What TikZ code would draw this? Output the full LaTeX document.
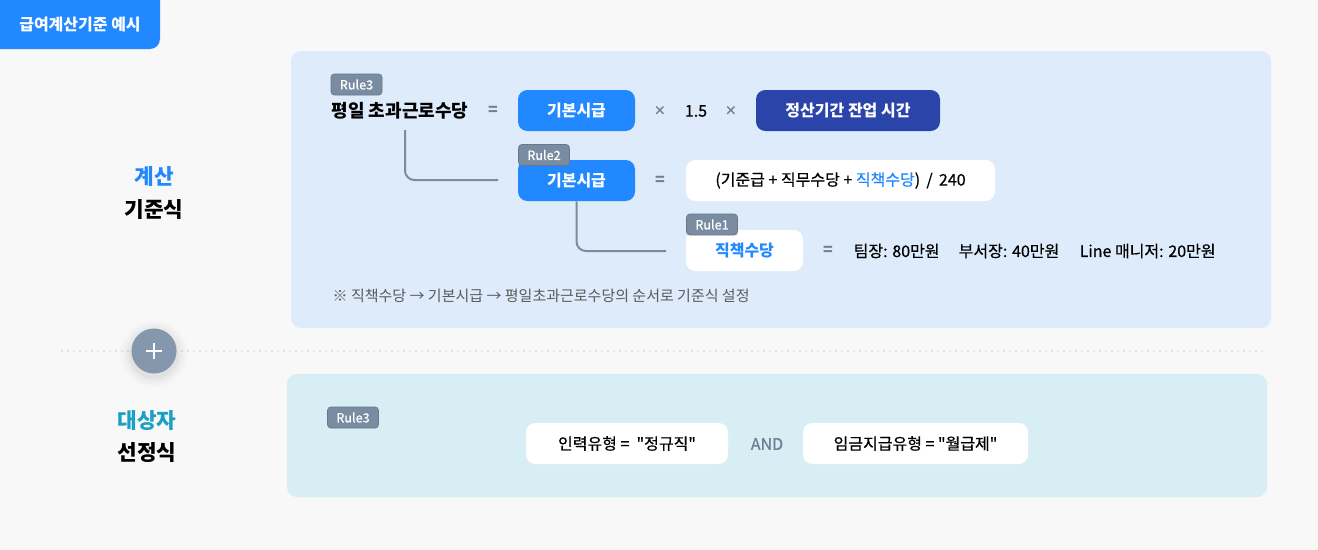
\documentclass[tikz,border=0pt]{standalone}
\usepackage{fontspec}
\setmainfont{Noto Sans CJK KR}[Ligatures=TeXOff]
\newfontfamily\medfont{Noto Sans CJK KR}[Ligatures=TeXOff,FakeBold=0.6]
\usetikzlibrary{positioning}

\definecolor{pagebg}{HTML}{F8F8F8}
\definecolor{mainblue}{HTML}{2288FF}
\definecolor{darkblue}{HTML}{2B44AA}
\definecolor{panelblue}{HTML}{DDEBFA}
\definecolor{panelteal}{HTML}{D8EEF5}
\definecolor{tagslate}{HTML}{7A8CA2}
\definecolor{opgray}{HTML}{6E7F94}
\definecolor{tealtxt}{HTML}{1AA0C4}
\definecolor{notegray}{HTML}{5A5A5A}
\definecolor{dotgray}{HTML}{D6DDE5}
\definecolor{plusgray}{HTML}{8497AD}

\newcommand{\fsz}[1]{\fontsize{#1}{#1}\selectfont}

\begin{document}
\begin{tikzpicture}[x=0.75pt,y=-0.75pt,
  tag/.style={fill=tagslate,draw=tagslate!85!black,line width=0.5pt,rounded corners=2.5pt,text=white,minimum width=38.25pt,minimum height=15.75pt,inner sep=0pt,font=\fsz{9.5}\medfont},
  bluebox/.style={fill=mainblue,rounded corners=7pt,minimum height=30.75pt,inner sep=0pt,text=white,font=\fsz{12}\bfseries},
  darkbox/.style={bluebox,fill=darkblue},
  whitebox/.style={fill=white,rounded corners=7pt,minimum height=30.75pt,inner sep=0pt,font=\fsz{12}\medfont},
  op/.style={text=opgray,font=\fsz{12}\bfseries},
  times/.style={text=opgray,font=\fsz{9.5}\bfseries},
  val/.style={anchor=west,font=\fsz{12}\medfont},
  conn/.style={draw=tagslate,line width=1.5pt,rounded corners=7pt},
  heading/.style={font=\fsz{16}\bfseries}]
\useasboundingbox (0,0) rectangle (1318,550);
\fill[pagebg] (0,0) rectangle (1318,550);

% title tab
\fill[mainblue,rounded corners=7.5pt] (-20,-20) rectangle (160,49);
\node[text=white,font=\fsz{12}\bfseries] (title) at (80,25) {급여계산기준 예시};

% panels
\fill[panelblue,rounded corners=7.5pt] (291,51) rectangle (1271,328);
\fill[panelteal,rounded corners=7.5pt] (287,374) rectangle (1267,497);

% left headings
\node[heading,text=mainblue] (calcA) at (154,176) {계산};
\node[heading] (calcB) at (154,210) {기준식};
\node[heading,text=tealtxt] (selA) at (147,421) {대상자};
\node[heading] (selB) at (147,453) {선정식};

% divider
\draw[dotgray,line width=1.6pt,line cap=round,dash pattern=on 0pt off 4.5pt] (62,351) -- (1265,351);
\foreach \r/\o in {34/0.012,31/0.018,28/0.025,25/0.035}
  \fill[black,opacity=\o] (154,354) circle[radius=\r*0.75pt];
\node[circle,fill=plusgray,minimum size=33.75pt,inner sep=0pt] (plus) at (154,351) {};
\draw[white,line width=2pt] (plus.center) +(-8,0) -- +(8,0);
\draw[white,line width=2pt] (plus.center) +(0,-8) -- +(0,8);

% rule 3 : overtime
\node[anchor=west,font=\fsz{13.5}\bfseries] (ot) at (327,111) {평일 초과근로수당};
\node[op] (eq1) at (493,111) {=};
\node[bluebox,minimum width=87.75pt] (bs1) at (576.5,110.5) {기본시급};
\node[times] (mul1) at (660,111) {×};
\node[font=\fsz{12}\medfont] (rate) at (696,111) {1.5};
\node[times] (mul2) at (731,111) {×};
\node[darkbox,minimum width=138pt] (hours) at (848,110.5) {정산기간 잔업 시간};

% rule 2 : hourly base
\node[bluebox,minimum width=87.75pt] (bs2) at (576.5,180.5) {기본시급};
\node[op] (eq2) at (660,181) {=};
\node[whitebox,minimum width=231.75pt] (formula) at (840.5,180.5) {(기준급 + 직무수당 + {\color{mainblue}직책수당})\, /\, 240};

% rule 1 : position allowance
\node[whitebox,minimum width=87.75pt,text=mainblue,font=\fsz{12}\bfseries] (pos) at (744.5,250.5) {직책수당};
\node[op] (eq3) at (828,251) {=};
\node[val] (v1) at (849,251) {팀장: 80만원};
\node[val] (v2) at (954,251) {부서장: 40만원};
\node[val] (v3) at (1075,251) {Line 매니저: 20만원};

% connectors
\coordinate (c0) at (405,130);
\coordinate (c1) at (498,180);
\coordinate (c2) at (666,251);
\draw[conn] (c0) |- (c1);
\draw[conn] (bs2.south) |- (c2);

% tags
\node[tag] (r3) at (356.5,84.5) {Rule3};
\node[tag] (r2) at (544,155) {Rule2};
\node[tag] (r1) at (712,224.5) {Rule1};

\node[anchor=west,text=notegray,font=\fsz{11.25}] (note) at (328,296) {※ 직책수당 → 기본시급 → 평일초과근로수당의 순서로 기준식 설정};

% selection rule
\node[tag] (r3b) at (353,417.5) {Rule3};
\node[whitebox,minimum width=151.5pt] (kind) at (627,443.5) {인력유형 =\ \ "정규직"};
\node[text=opgray,font=\fsz{12}\medfont] (and) at (767,444) {AND};
\node[whitebox,minimum width=168.75pt] (pay) at (915.5,443.5) {임금지급유형 = "월급제"};
\end{tikzpicture}
\end{document}
